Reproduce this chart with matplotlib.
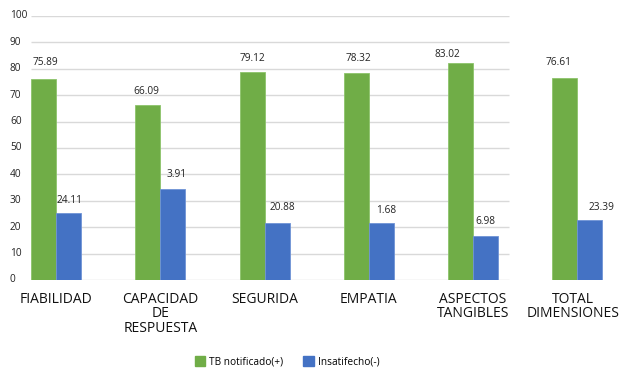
import matplotlib
matplotlib.use("Agg")
import matplotlib.pyplot as plt
from matplotlib.patches import Patch
import matplotlib.transforms as mtrans
import numpy as np

plt.rcParams['font.family'] = ['Open Sans', 'DejaVu Sans']

categories = ["FIABILIDAD", "CAPACIDAD\nDE\nRESPUESTA", "SEGURIDA", "EMPATIA",
              "ASPECTOS\nTANGIBLES", "TOTAL\nDIMENSIONES"]
# bar heights as drawn
tb_heights = [76.1, 66.3, 78.8, 78.4, 82.2, 76.5]
ins_heights = [25.4, 34.5, 21.6, 21.7, 16.7, 22.7]
# printed value labels
tb_labels = ["75.89", "66.09", "79.12", "78.32", "83.02", "76.61"]
ins_labels = ["24.11", "3.91", "20.88", "1.68", "6.98", "23.39"]
series_names = ["TB notificado(+)", "Insatifecho(-)"]
yticks = [0, 10, 20, 30, 40, 50, 60, 70, 80, 90, 100]

GREEN = "#70AD47"
BLUE = "#4472C4"
W, H = 619, 374
fig = plt.figure(figsize=(W / 100, H / 100), dpi=100)
ax = fig.add_axes([31 / W, 94 / H, 588 / W, 264 / H])
ax.set_xlim(-0.24, 5.40)
ax.set_ylim(0, 100)
for s in ax.spines.values():
    s.set_visible(False)
ax.set_xticks([])
ax.set_yticks([])

grid_end = 4.345
ax.hlines(yticks, -0.24, grid_end, colors="#d9d9d9", linewidth=1.0, zorder=0)

x = np.arange(len(categories))
bw = 0.24
ax.bar(x - bw / 2, tb_heights, bw, color=GREEN, edgecolor="#8cc46a", linewidth=0.6, zorder=2)
ax.bar(x + bw / 2, ins_heights, bw, color=BLUE, edgecolor="#6f93d6", linewidth=0.6, zorder=2)

# label offsets in pixels (dx, dy above bar top)
tb_off = [(2, 17), (-1, 13), (0, 13), (2, 15), (-13, 8), (-6, 16)]
ins_off = [(1, 12), (4, 14), (5, 15), (5, 12), (0, 14), (12, 13)]
for i in range(len(categories)):
    ax.annotate(tb_labels[i], (x[i] - bw / 2, tb_heights[i]),
                xytext=(tb_off[i][0] * 0.72, tb_off[i][1] * 0.72), textcoords="offset points",
                ha="center", va="center", fontsize=7.3, color="#222222")
    ax.annotate(ins_labels[i], (x[i] + bw / 2, ins_heights[i]),
                xytext=(ins_off[i][0] * 0.72, ins_off[i][1] * 0.72), textcoords="offset points",
                ha="center", va="center", fontsize=7.3, color="#222222")

# y tick labels, left aligned
trans = mtrans.blended_transform_factory(fig.transFigure, ax.transData)
for t in yticks:
    ax.text(10 / W, t, str(t), transform=trans, ha="left", va="center",
            fontsize=7.3, color="#222222")

# category labels
cat_dx = [0, 0, 0, 0, 0, -4]
for i, c in enumerate(categories):
    ax.annotate(c, (x[i], 0), xytext=(cat_dx[i] * 0.72, -8.5), textcoords="offset points",
                ha="center", va="top", fontsize=10, color="#111111",
                linespacing=0.95, annotation_clip=False)

handles = [Patch(color=GREEN), Patch(color=BLUE)]
fig.legend(handles, series_names, loc="center", bbox_to_anchor=(287 / W, 1 - 362 / H),
           ncol=2, frameon=False, fontsize=7.3, handlelength=1.0, handleheight=1.0,
           handletextpad=0.4, columnspacing=2.0)

fig.savefig("out.png", dpi=100)
